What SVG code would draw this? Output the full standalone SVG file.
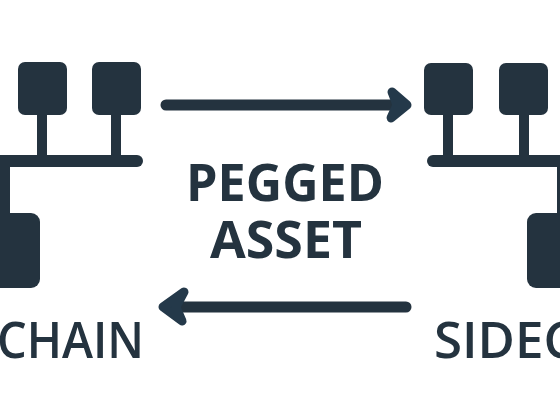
<svg xmlns="http://www.w3.org/2000/svg" width="560" height="404" viewBox="0 0 560 404">
<style>
.n{fill:#24333f}
.w{fill:none;stroke:#24333f;stroke-width:11;stroke-linecap:round;stroke-linejoin:round}
.h{fill:#24394a;stroke:#24394a;stroke-width:9;stroke-linecap:round;stroke-linejoin:round}
text{fill:#24333f;font-family:"Open Sans","Liberation Sans",sans-serif}
.m{font-size:52px;font-weight:700}
.l{font-size:51px;font-weight:600}
</style>
<rect width="560" height="404" fill="#fff"/>
<g id="connectors">
<path class="w" d="M166 105H395"/>
<path class="h" d="M392 92L407 105L391 118L397 105Z"/>
<path class="w" d="M406 307H178"/>
<path class="h" d="M184 292L163 307L182 321L176 307Z"/>
</g>
<g id="mainchain">
<rect class="n" x="18" y="62" width="49" height="53" rx="7"/>
<rect class="n" x="92" y="62" width="49" height="53" rx="7"/>
<rect class="n" x="37" y="113" width="10" height="44"/>
<rect class="n" x="111" y="113" width="10" height="44"/>
<rect class="n" x="-6" y="155" width="149" height="12" rx="6"/>
<rect class="n" x="0" y="165" width="10" height="50"/>
<rect class="n" x="-30" y="213" width="70" height="75" rx="9"/>
<text class="l" x="-3" y="358" textLength="147" lengthAdjust="spacingAndGlyphs">CHAIN</text>
</g>
<g id="sidechain">
<rect class="n" x="424" y="63" width="49" height="52" rx="7"/>
<rect class="n" x="499" y="63" width="49" height="52" rx="7"/>
<rect class="n" x="443" y="113" width="10" height="44"/>
<rect class="n" x="519" y="113" width="10" height="44"/>
<rect class="n" x="427" y="155" width="140" height="12" rx="6"/>
<rect class="n" x="557" y="165" width="10" height="50"/>
<rect class="n" x="527" y="213" width="70" height="75" rx="9"/>
<text class="l" x="434" y="358">SIDEC</text>
</g>
<g id="pegged-asset">
<text class="m" x="186" y="201" textLength="198" lengthAdjust="spacingAndGlyphs">PEGGED</text>
<text class="m" x="210" y="258" textLength="152" lengthAdjust="spacingAndGlyphs">ASSET</text>
</g>
</svg>
